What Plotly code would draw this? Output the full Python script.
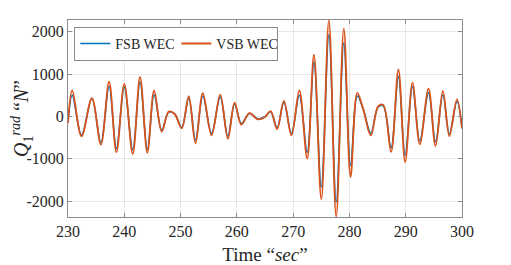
import plotly.graph_objects as go

# Extremum times (s)
time_s = [230.0, 230.75, 232.4, 234.25, 235.85, 237.3, 238.6, 240.0, 241.5, 242.8,
          244.1, 245.3, 246.65, 247.9, 248.95, 250.2, 251.45, 252.65, 253.95, 255.5,
          257.05, 258.4, 259.6, 260.8, 262.25, 263.7, 265.0, 266.0, 267.15, 268.35,
          269.7, 271.1, 272.5, 273.7, 275.0, 276.35, 277.65, 279.0, 280.2, 281.4,
          282.45, 283.8, 285.1, 286.0, 287.4, 288.7, 289.9, 291.2, 292.5, 294.05,
          295.3, 296.6, 297.75, 299.1, 300.0]

fsb_wec = [-140, 500, -440, 420, -620, 710, -760, 690, -790, 810,
           -780, 510, -330, 100, 60, -260, 430, -560, 480, -400,
           460, -470, 290, -170, 70, -60, -10, 110, -270, 330,
           -400, 500, -850, 1280, -1670, 1930, -2020, 1730, -1160, 480,
           170, -400, 220, 250, -740, 945, -920, 700, -580, 560,
           -600, 510, -410, 350, -260]

vsb_wec = [-160, 610, -470, 430, -665, 820, -850, 765, -890, 930,
           -860, 610, -360, 110, 55, -285, 475, -640, 545, -450,
           515, -530, 325, -195, 75, -70, -15, 125, -300, 365,
           -450, 610, -1000, 1455, -1960, 2265, -2370, 2070, -1430, 555,
           170, -450, 236, 270, -840, 1110, -1080, 795, -660, 655,
           -700, 600, -465, 400, -290]

x_ticks = [230, 240, 250, 260, 270, 280, 290, 300]
y_ticks = [-2000, -1000, 0, 1000, 2000]
y_tick_labels = ["-2000", "-1000", "0", "1000", "2000"]

font_family = "Liberation Serif"
text_color = "#262626"

fig = go.Figure()
fig.add_trace(go.Scatter(x=time_s, y=fsb_wec, mode="lines", name="FSB WEC",
                         line=dict(color="#0072BD", width=1.6, shape="spline", smoothing=1.0)))
fig.add_trace(go.Scatter(x=time_s, y=vsb_wec, mode="lines", name="VSB WEC",
                         line=dict(color="#D95319", width=1.8, shape="spline", smoothing=1.0)))

axis_common = dict(showgrid=True, gridcolor="#e6e6e6", gridwidth=1, automargin=False,
                   showline=True, linecolor="#8c8c8c", linewidth=1, mirror="ticks",
                   ticks="inside", ticklen=4, tickcolor="#8c8c8c",
                   zeroline=False, tickfont=dict(family=font_family, size=16, color=text_color))

# page body has an 8px default margin, so the figure is 8px smaller than the window
fig.update_layout(
    width=503, height=257,
    margin=dict(l=60, r=49, t=12, b=48),
    paper_bgcolor="white", plot_bgcolor="white",
    showlegend=True,
    legend=dict(orientation="h", x=0.016, y=0.965, xanchor="left", yanchor="top",
                bgcolor="white", bordercolor="#8c8c8c", borderwidth=1,
                font=dict(family=font_family, size=14, color=text_color),
                tracegroupgap=0, itemwidth=30, entrywidth=56, entrywidthmode="pixels"),
    xaxis=dict(range=[230, 300], tickvals=x_ticks,
               title=dict(text="Time “<i>sec</i>”", standoff=8,
                          font=dict(family=font_family, size=19, color=text_color)),
               **axis_common),
    yaxis=dict(range=[-2378, 2276], tickvals=y_ticks, ticktext=y_tick_labels,
               title=dict(text="<i>Q</i><sub>1</sub><sup><i>rad</i></sup> “<i>N</i>”", standoff=4,
                          font=dict(family=font_family, size=20, color=text_color)),
               **axis_common),
)

fig.write_html("out.html")
